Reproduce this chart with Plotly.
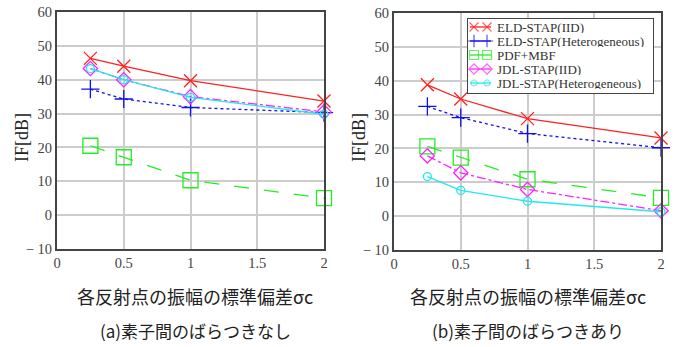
import plotly.graph_objects as go

sigma = [0.25, 0.5, 1, 2]
names = ["ELD-STAP(IID)", "ELD-STAP(Heterogeneous)", "PDF+MBF", "JDL-STAP(IID)", "JDL-STAP(Heterogeneous)"]
left_vals = [
    [46.3, 44.0, 39.7, 33.7],
    [37.2, 34.3, 31.8, 30.3],
    [20.5, 17.1, 10.3, 5.0],
    [43.3, 40.0, 35.0, 30.5],
    [43.3, 40.0, 34.8, 29.8],
]
right_vals = [
    [38.8, 34.6, 28.8, 23.1],
    [32.4, 29.1, 24.4, 20.2],
    [20.6, 17.3, 10.9, 5.4],
    [17.8, 12.8, 7.9, 1.6],
    [11.7, 7.6, 4.4, 1.3],
]
xticks = [0, 0.5, 1, 1.5, 2]
xticklabels = ["0", "0.5", "1", "1.5", "2"]
yticks = [-10, 0, 10, 20, 30, 40, 50, 60]
yticklabels = ["− 10", "0", "10", "20", "30", "40", "50", "60"]
xlabel = "各反射点の振幅の標準偏差σc"
ylabel = "IF[dB]"
subtitles = ["(a)素子間のばらつきなし", "(b)素子間のばらつきあり"]

colors = ["#ff2020", "#1010ee", "#22ee22", "#ff22ff", "#22e8f0"]
symbols = ["x-thin-open", "cross-thin-open", "square-open", "diamond-open", "circle-open"]
sizes = [13, 13, 15, 11, 8]
leg_sizes = [9, 9, 9, 8, 6]
dashes = ["solid", "dot", "longdash", "dashdot", "solid"]

serif = "Liberation Serif, DejaVu Serif, serif"
jp = "Noto Sans CJK JP"
W, H = 678, 347

fig = go.Figure()
for panel, vals in enumerate([left_vals, right_vals]):
    xa = "x" if panel == 0 else "x2"
    ya = "y" if panel == 0 else "y2"
    for i, v in enumerate(vals):
        fig.add_trace(go.Scatter(
            x=sigma, y=v, name=names[i], mode="lines+markers",
            xaxis=xa, yaxis=ya, showlegend=False, cliponaxis=False,
            line=dict(color=colors[i], width=1.3, dash=dashes[i]),
            marker=dict(symbol=symbols[i], size=sizes[i], color=colors[i],
                        line=dict(color=colors[i], width=1.3)),
        ))

# custom legend box on an overlay (pixel-unit) axis
LX0, LX1, LY0, LY1 = 467, 654, 18, 94
fig.add_trace(go.Scatter(
    x=[LX0, LX1, LX1, LX0, LX0], y=[LY0, LY0, LY1, LY1, LY0], mode="lines",
    fill="toself", fillcolor="white", line=dict(color="#444444", width=2),
    xaxis="x3", yaxis="y3", showlegend=False, hoverinfo="skip", cliponaxis=False,
))
row_y = [27, 41, 55, 69, 83]
for i in range(5):
    fig.add_trace(go.Scatter(
        x=[470, 474, 487, 491], y=[row_y[i]] * 4, mode="lines+markers",
        xaxis="x3", yaxis="y3", showlegend=False, hoverinfo="skip", cliponaxis=False,
        line=dict(color=colors[i], width=1.3),
        marker=dict(symbol=symbols[i], size=[0, leg_sizes[i], leg_sizes[i], 0], color=colors[i],
                    line=dict(color=colors[i], width=1.2)),
    ))
    fig.add_annotation(text=names[i], x=496, y=row_y[i], xref="x3", yref="y3", xanchor="left",
                       yanchor="middle", showarrow=False, height=12, borderpad=0,
                       font=dict(family=serif, size=13, color="#333333"))

axis_common = dict(
    showgrid=True, gridcolor="#cccccc", gridwidth=1.5,
    showline=True, linecolor="#444444", linewidth=2, mirror=True, automargin=False,
    zeroline=False, ticks="", tickfont=dict(family=serif, size=14.5, color="#444444"),
)
yd = [1 - 249 / H, 1 - 12 / H]
yd2 = [1 - 250 / H, 1 - 13 / H]
fig.update_layout(
    width=W, height=H,
    margin=dict(l=0, r=0, t=0, b=0, autoexpand=False),
    plot_bgcolor="white", paper_bgcolor="white",
    xaxis=dict(domain=[57 / W, 324 / W], range=[0, 2], tickvals=xticks, ticktext=xticklabels, **axis_common),
    yaxis=dict(domain=yd, range=[-10, 60], tickvals=yticks, ticktext=yticklabels, **axis_common),
    xaxis2=dict(domain=[394 / W, 661 / W], range=[0, 2], tickvals=xticks, ticktext=xticklabels, anchor="y2", **axis_common),
    yaxis2=dict(domain=yd2, range=[-10, 60], tickvals=yticks, ticktext=yticklabels, anchor="x2", **axis_common),
    xaxis3=dict(domain=[LX0 / W, LX1 / W], range=[LX0, LX1], visible=False, anchor="y3", fixedrange=True),
    yaxis3=dict(domain=[1 - LY1 / H, 1 - LY0 / H], range=[LY1, LY0], visible=False, anchor="x3", fixedrange=True),
    showlegend=False,
)
for cx, sub in zip([195, 528], subtitles):
    fig.add_annotation(text=xlabel, x=cx / W, y=1 - 296 / H, xref="paper", yref="paper",
                       xanchor="center", yanchor="middle",
                       showarrow=False, font=dict(family=jp, size=18, color="#222222"))
    fig.add_annotation(text=sub, x=cx / W, y=1 - 330 / H, xref="paper", yref="paper",
                       xanchor="center", yanchor="middle",
                       showarrow=False, font=dict(family=jp, size=17, color="#222222"))
for lx in [22, 359]:
    fig.add_annotation(text=ylabel, x=lx / W, y=1 - 138 / H, xref="paper", yref="paper",
                       xanchor="center", yanchor="middle",
                       showarrow=False, textangle=-90, font=dict(family=serif, size=18, color="#222222"))

fig.write_html("out.html", config={"displayModeBar": False},
               post_script="document.body.style.margin='0';document.body.style.overflow='hidden';")
